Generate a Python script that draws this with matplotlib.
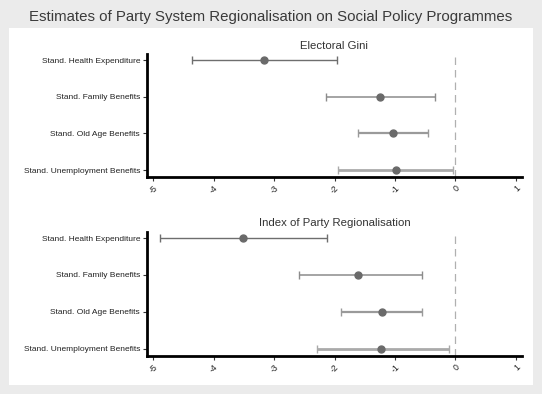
import matplotlib.pyplot as plt
from matplotlib.patches import Rectangle

plt.rcParams['font.family'] = ['Liberation Sans', 'DejaVu Sans']

categories = ['Stand. Health Expenditure', 'Stand. Family Benefits',
              'Stand. Old Age Benefits', 'Stand. Unemployment Benefits']
xticks = [-5, -4, -3, -2, -1, 0, 1]

# Electoral Gini
gini_est = [-3.16, -1.25, -1.04, -0.99]
gini_lo = [-4.36, -2.14, -1.61, -1.95]
gini_hi = [-1.96, -0.34, -0.45, -0.04]

# Index of Party Regionalisation
ipr_est = [-3.52, -1.61, -1.22, -1.23]
ipr_lo = [-4.89, -2.59, -1.90, -2.29]
ipr_hi = [-2.12, -0.55, -0.55, -0.10]

panel_titles = ['Electoral Gini', 'Index of Party Regionalisation']

bar_colors = ['#6e6e6e', '#8c8c8c', '#9a9a9a', '#aaaaaa']
bar_widths = [1.0, 1.1, 1.6, 2.0]

fig = plt.figure(figsize=(5.42, 3.94), dpi=100)
fig.patch.set_facecolor('#ebebeb')
fig.patches.append(Rectangle((9 / 542, 1 - 385 / 394), 524 / 542, 357 / 394,
                             transform=fig.transFigure, facecolor='white',
                             edgecolor='none', zorder=-5))
fig.text(0.5, 1 - 17 / 394, 'Estimates of Party System Regionalisation on Social Policy Programmes',
         ha='center', va='center', fontsize=10.8, color='#3a3a3a')

axes_pos = [[147 / 542, 0.5508, 375 / 542, 0.312],
            [147 / 542, 0.0977, 375 / 542, 0.3134]]
data = [(gini_est, gini_lo, gini_hi), (ipr_est, ipr_lo, ipr_hi)]

for pos, (est, lo, hi), title in zip(axes_pos, data, panel_titles):
    ax = fig.add_axes(pos)
    ax.set_facecolor('none')
    ypos = [3, 2, 1, 0]
    ax.axvline(0, color='#b0b0b0', lw=0.9, ls=(0, (6, 4)), zorder=1)
    for i in range(4):
        ax.errorbar(est[i], ypos[i], xerr=[[est[i] - lo[i]], [hi[i] - est[i]]],
                    fmt='none', ecolor=bar_colors[i], elinewidth=bar_widths[i],
                    capsize=3, capthick=1.0, zorder=2)
    ax.plot(est, ypos, 'o', color='#6a6a6a', ms=5, zorder=3)
    ax.set_xlim(-5.1, 1.1)
    ax.set_ylim(-0.19, 3.165)
    ax.set_yticks(ypos)
    ax.set_yticklabels(categories, fontsize=6.0, color='#222222')
    ax.set_xticks(xticks)
    ax.set_xticklabels([str(t) for t in xticks], fontsize=6.3, color='#222222',
                       rotation=45, ha='right', va='top', rotation_mode='anchor')
    ax.tick_params(axis='both', length=3, width=0.8, color='#333333', pad=2)
    for s in ['top', 'right']:
        ax.spines[s].set_visible(False)
    for s in ['left', 'bottom']:
        ax.spines[s].set_linewidth(2)
        ax.spines[s].set_color('black')
    ax.set_title(title, fontsize=8.2, color='#333333', pad=4)

fig.savefig('out.png', dpi=100, facecolor=fig.get_facecolor())
